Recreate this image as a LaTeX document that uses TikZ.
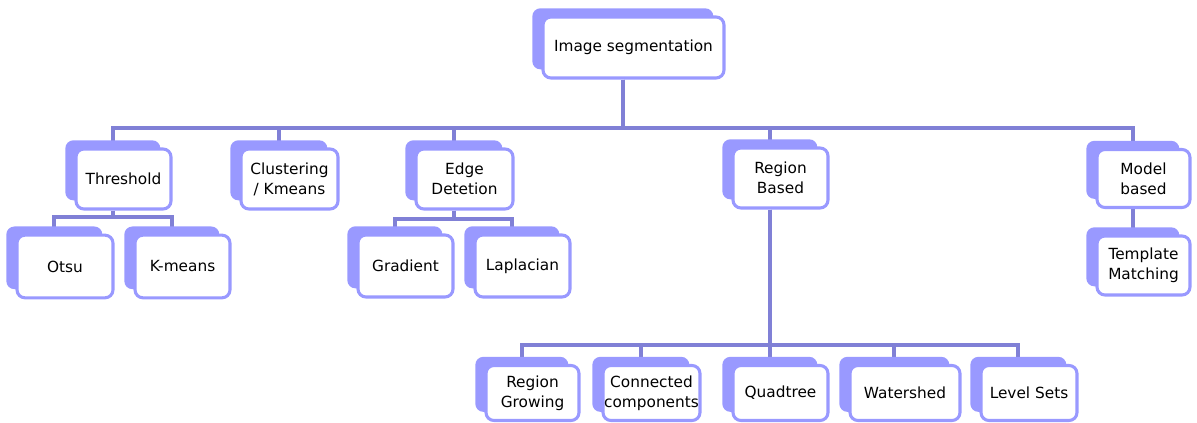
\documentclass[tikz,border=0pt]{standalone}
\usepackage{fontspec}
\setmainfont{DejaVu Sans}
\usetikzlibrary{shadows,backgrounds}

\definecolor{lav}{RGB}{153,153,255}
\definecolor{linkblue}{RGB}{128,128,214}

\tikzset{
  box/.style={draw=lav, line width=2.3pt, fill=white, rounded corners=6pt,
    align=center, inner sep=0pt, font=\fontsize{11.5}{15}\selectfont,
    general shadow={fill=lav, shadow xshift=-8pt, shadow yshift=6.5pt}},
  link/.style={draw=linkblue, line width=2.8pt}
}

\begin{document}
\begin{tikzpicture}[x=0.75pt, y=-0.75pt]

\useasboundingbox (0,0) rectangle (1197,423);

% root
\node[box, minimum width=135.75pt, minimum height=45.75pt] (root) at (633.5,47.5) {Image segmentation};

% first level
\node[box, minimum width=71.25pt, minimum height=45pt] (thr) at (123.5,179) {Threshold};
\node[box, minimum width=72.75pt, minimum height=45pt] (clu) at (289.5,179) {Clustering\\/ Kmeans};
\node[box, minimum width=72.75pt, minimum height=45pt] (edge) at (464.5,179) {Edge\\Detetion};
\node[box, minimum width=71.25pt, minimum height=45pt] (reg) at (780.5,178) {Region\\Based};
\node[box, minimum width=69.75pt, minimum height=43.5pt] (mod) at (1143.5,178.5) {Model\\based};

% second level
\node[box, minimum width=72pt, minimum height=47pt] (otsu) at (65,266.5) {Otsu};
\node[box, minimum width=71.25pt, minimum height=47pt] (kmeans) at (182.5,266.5) {K-means};
\node[box, minimum width=71.25pt, minimum height=46.5pt] (grad) at (405.5,266) {Gradient};
\node[box, minimum width=71.25pt, minimum height=46.5pt] (lap) at (522.5,266) {Laplacian};
\node[box, minimum width=69.75pt, minimum height=44.25pt] (tmpl) at (1143.5,265.5) {Template\\Matching};

% region based children
\node[box, minimum width=69.75pt, minimum height=41.25pt] (grow) at (532.5,393) {Region\\Growing};
\node[box, minimum width=72.75pt, minimum height=41.25pt] (conn) at (651.5,393) {Connected\\components};
\node[box, minimum width=71.25pt, minimum height=41.25pt] (quad) at (780.5,393) {Quadtree};
\node[box, minimum width=82.5pt, minimum height=41.25pt] (water) at (905,393) {Watershed};
\node[box, minimum width=72pt, minimum height=41.25pt] (level) at (1029,393) {Level Sets};

\coordinate (bus) at (0,128);
\coordinate (thrbus) at (0,217);
\coordinate (edgebus) at (0,219);
\coordinate (regbus) at (0,345);

\begin{scope}[on background layer]
\draw[link] ([xshift=-8pt]root.south) -- ([xshift=-8pt]root.south |- bus) -| ([xshift=-8pt]thr.north);
\draw[link] ([xshift=-8pt]root.south) -- ([xshift=-8pt]root.south |- bus) -| ([xshift=-8pt]clu.north);
\draw[link] ([xshift=-8pt]root.south) -- ([xshift=-8pt]root.south |- bus) -| ([xshift=-8pt]edge.north);
\draw[link] ([xshift=-8pt]root.south) -- ([xshift=-8pt]root.south |- bus) -| ([xshift=-8pt]reg.north);
\draw[link] ([xshift=-8pt]root.south) -- ([xshift=-8pt]root.south |- bus) -| ([xshift=-8pt]mod.north);

\draw[link] ([xshift=-8pt]thr.south) -- ([xshift=-8pt]thr.south |- thrbus) -| ([xshift=-8pt]otsu.north);
\draw[link] ([xshift=-8pt]thr.south) -- ([xshift=-8pt]thr.south |- thrbus) -| ([xshift=-8pt]kmeans.north);

\draw[link] ([xshift=-8pt]edge.south) -- ([xshift=-8pt]edge.south |- edgebus) -| ([xshift=-8pt]grad.north);
\draw[link] ([xshift=-8pt]edge.south) -- ([xshift=-8pt]edge.south |- edgebus) -| ([xshift=-8pt]lap.north);

\draw[link] ([xshift=-8pt]mod.south) -- ([xshift=-8pt]tmpl.north);

\draw[link] ([xshift=-8pt]reg.south) -- ([xshift=-8pt]reg.south |- regbus) -| ([xshift=-8pt]grow.north);
\draw[link] ([xshift=-8pt]reg.south) -- ([xshift=-8pt]reg.south |- regbus) -| ([xshift=-8pt]conn.north);
\draw[link] ([xshift=-8pt]reg.south) -- ([xshift=-8pt]reg.south |- regbus) -| ([xshift=-8pt]quad.north);
\draw[link] ([xshift=-8pt]reg.south) -- ([xshift=-8pt]reg.south |- regbus) -| ([xshift=-8pt]water.north);
\draw[link] ([xshift=-8pt]reg.south) -- ([xshift=-8pt]reg.south |- regbus) -| ([xshift=-8pt]level.north);
\end{scope}

\end{tikzpicture}
\end{document}
